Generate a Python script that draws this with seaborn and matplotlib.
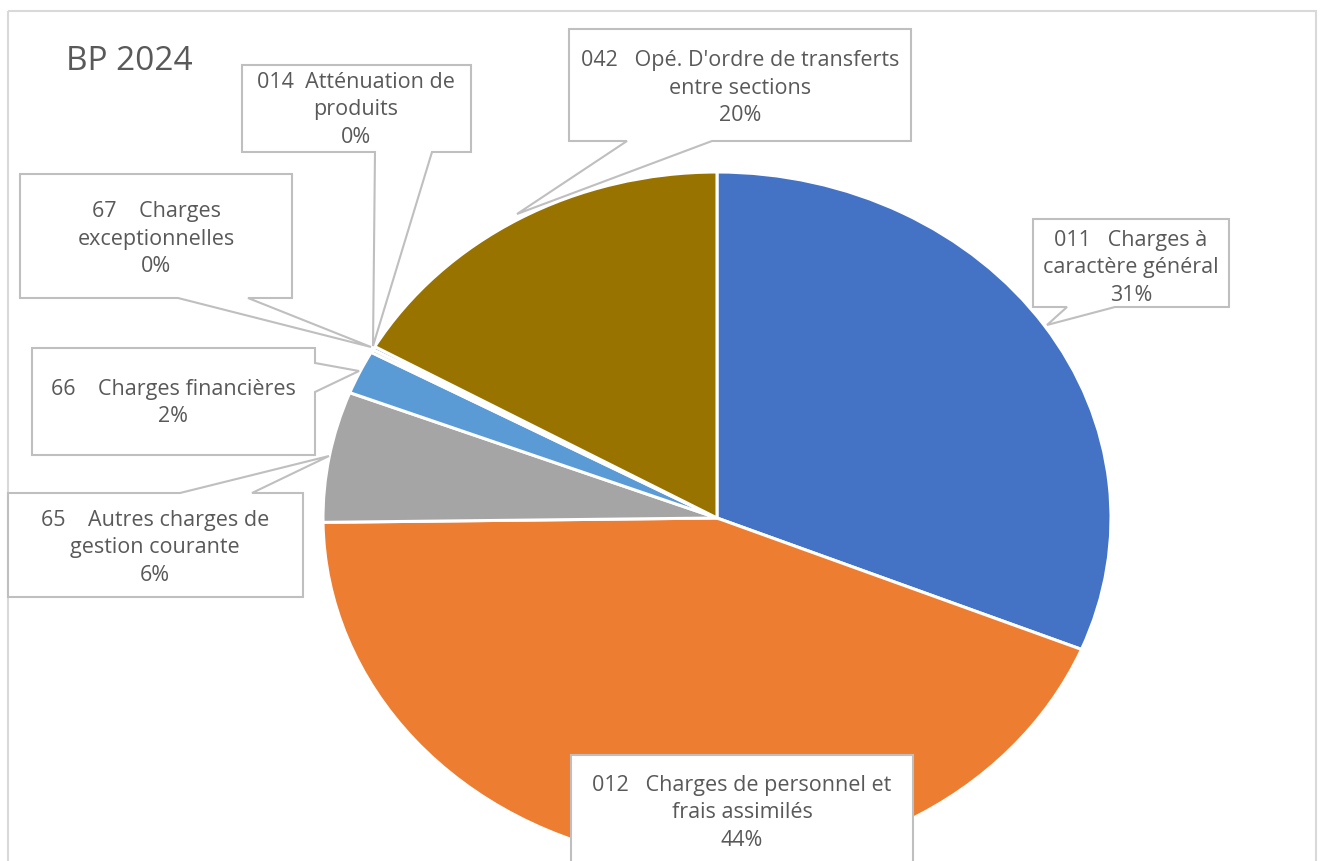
import matplotlib
matplotlib.use("Agg")
import matplotlib.pyplot as plt
from matplotlib.patches import Polygon, Rectangle
import seaborn as sns

# slices, clockwise from 12 o'clock (shares)
codes = ["011", "012", "65", "66", "67", "014", "042"]
values = [31.2, 43.6, 6.1, 2.05, 0.15, 0.15, 16.75]
pct_labels = ["31%", "44%", "6%", "2%", "0%", "0%", "20%"]
label_text = [
    "011   Charges à\ncaractère général",
    "012   Charges de personnel et\nfrais assimilés",
    "65    Autres charges de\ngestion courante",
    "66    Charges financières",
    "67    Charges\nexceptionnelles",
    "014  Atténuation de\nproduits",
    "042   Opé. D'ordre de transferts\nentre sections",
]
colors = ["#4472C4", "#ED7D31", "#A5A5A5", "#5B9BD5", "#70AD47", "#264478", "#997300"]

W, H = 1323, 861
CX, CY, RX, RY = 717, 518, 394, 346   # pie centre / radii in pixels

# callout boxes in pixels (polygon with its tail) and text centre
callouts = {
    "011": ([(1033, 219), (1229, 219), (1229, 307), (1115, 307), (1047, 325), (1067, 307), (1033, 307)], (1131, 268)),
    "042": ([(569, 29), (911, 29), (911, 141), (712, 141), (517, 214), (627, 141), (569, 141)], (740, 88)),
    "014": ([(242, 65), (471, 65), (471, 152), (432, 152), (373, 346), (375, 152), (242, 152)], (356, 110)),
    "67": ([(20, 174), (292, 174), (292, 298), (248, 298), (371, 347), (178, 298), (20, 298)], (156, 239)),
    "66": ([(32, 348), (315, 348), (315, 363), (359, 371), (315, 392), (315, 455), (32, 455)], (173, 403)),
    "65": ([(8, 493), (180, 493), (329, 456), (252, 493), (303, 493), (303, 597), (8, 597)], (155, 548)),
    "012": ([(571, 755), (913, 755), (913, 875), (571, 875)], (742, 813)),
}

sns.set_style("white")
plt.rcParams['font.family'] = ['Open Sans', 'DejaVu Sans']
text_color = "#595959"

fig = plt.figure(figsize=(W / 100, H / 100), dpi=100)

#pie axes, stretched like the original
ax = fig.add_axes([0, 0, 1, 1])
ax.pie(values, colors=colors, startangle=90, counterclock=False, radius=1,
       wedgeprops=dict(edgecolor="white", linewidth=2.2))
ax.set_aspect("auto")
ax.set_xlim(-CX / RX, (W - CX) / RX)
ax.set_ylim((CY - H) / RY, CY / RY)
ax.axis("off")

#overlay in pixel coords for the callouts
ov = fig.add_axes([0, 0, 1, 1])
ov.set_xlim(0, W)
ov.set_ylim(H, 0)
ov.axis("off")

ov.add_patch(Rectangle((8, 11), 1308, 870, fill=False, edgecolor="#D9D9D9", linewidth=1.5))

for code, txt, pct in zip(codes, label_text, pct_labels):
    poly, (tx, ty) = callouts[code]
    ov.add_patch(Polygon(poly, closed=True, facecolor="white", edgecolor="#BFBFBF", linewidth=1.5))
    ov.text(tx, ty, txt + "\n" + pct, ha="center", va="center", multialignment="center",
            fontsize=15.5, color=text_color, linespacing=1.38)

ov.text(66, 62, "BP 2024", ha="left", va="center", fontsize=24, color=text_color)

fig.savefig("out.png", dpi=100)
